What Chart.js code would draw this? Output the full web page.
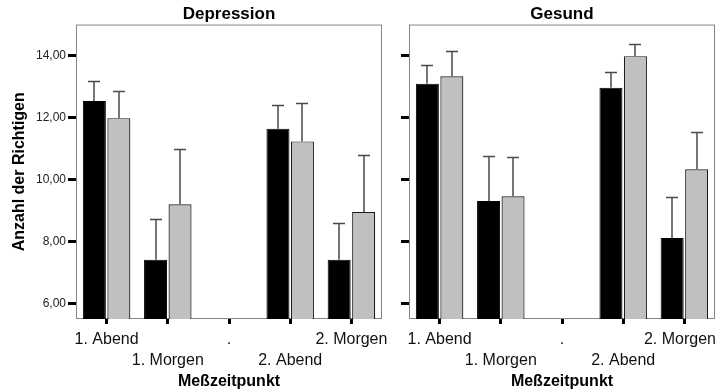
<!DOCTYPE html>
<html>
<head>
<meta charset="utf-8">
<script src="https://cdn.jsdelivr.net/npm/chart.js@4.4.1/dist/chart.umd.min.js"></script>
<style>
  html, body { margin: 0; padding: 0; background: #fff; overflow: hidden; }
  #wrap { position: relative; width: 718px; height: 391px; }
  canvas { position: absolute; top: 0; }
  #cDep { left: 0; }
  #cGes { left: 390px; }
</style>
</head>
<body>
<div id="wrap">
  <canvas id="cDep" width="390" height="391" style="width:390px;height:391px"></canvas>
  <canvas id="cGes" width="328" height="391" style="width:328px;height:391px"></canvas>
</div>
<script>
// Measurement times (x axis); "." is an empty placeholder category
const categories = ['1. Abend', '1. Morgen', '.', '2. Abend', '2. Morgen'];
// 0 = first label row, 1 = second label row (staggered labels)
const labelRows = [0, 1, 0, 1, 0];

// y axis range and tick values
const yMin = 5.5;
const yMax = 15;
const yTicks = [6, 8, 10, 12, 14];

// Depression group: means and upper error-bar ends
const depBlack = [12.53, 7.41, null, 11.64, 7.41];
const depBlackUpper = [13.17, 8.72, null, 12.40, 8.60];
const depGray = [11.98, 9.20, null, 11.23, 8.95];
const depGrayUpper = [12.87, 10.97, null, 12.47, 10.80];

// Gesund group: means and upper error-bar ends
const gesBlack = [13.09, 9.31, null, 12.96, 8.11];
const gesBlackUpper = [13.70, 10.76, null, 13.46, 9.43];
const gesGray = [13.33, 9.46, null, 13.98, 10.33];
const gesGrayUpper = [14.16, 10.72, null, 14.36, 11.53];

const FONT = "'Liberation Sans', Arial, Helvetica, sans-serif";

// grey frame around the plot area
const framePlugin = {
  id: 'frame',
  beforeDatasetsDraw(chart) {
    const { ctx, chartArea: a } = chart;
    ctx.save();
    ctx.strokeStyle = '#858585';
    ctx.lineWidth = 1;
    ctx.strokeRect(a.left + 0.5, a.top + 0.5, a.right - a.left - 1, a.bottom - a.top - 1);
    ctx.restore();
  }
};

// upper error bars (stem + cap) taken from each dataset's "upper" array
const errorBarPlugin = {
  id: 'errorBars',
  afterDatasetsDraw(chart) {
    const ctx = chart.ctx;
    const ys = chart.scales.y;
    ctx.save();
    ctx.strokeStyle = '#4a4a4a';
    ctx.lineWidth = 1.5;
    chart.data.datasets.forEach((ds, i) => {
      const meta = chart.getDatasetMeta(i);
      ds.upper.forEach((u, j) => {
        if (u == null || ds.data[j] == null) return;
        const el = meta.data[j];
        const x = Math.round(el.x);
        const y0 = ys.getPixelForValue(ds.data[j]);
        const y1 = Math.round(ys.getPixelForValue(u)) + 0.5;
        ctx.beginPath();
        ctx.moveTo(x, y0);
        ctx.lineTo(x, y1);
        ctx.moveTo(x - 6, y1);
        ctx.lineTo(x + 6, y1);
        ctx.stroke();
      });
    });
    ctx.restore();
  }
};

function makeChart(canvasId, title, black, blackUpper, gray, grayUpper, withYLabels) {
  const lastIdx = categories.length - 1;
  return new Chart(document.getElementById(canvasId), {
    type: 'bar',
    data: {
      labels: categories,
      datasets: [
        {
          label: 'Serie 1',
          data: black,
          upper: blackUpper,
          backgroundColor: '#000000',
          borderColor: '#000000',
          borderWidth: 1,
          base: yMin,
          categoryPercentage: 0.8,
          barPercentage: 0.94
        },
        {
          label: 'Serie 2',
          data: gray,
          upper: grayUpper,
          backgroundColor: '#c0c0c0',
          borderColor: '#1a1a1a',
          borderWidth: 1.2,
          base: yMin,
          categoryPercentage: 0.8,
          barPercentage: 0.94
        }
      ]
    },
    options: {
      responsive: false,
      animation: false,
      layout: { padding: { left: 0, right: withYLabels ? 8 : 3, top: 0, bottom: 0 } },
      plugins: {
        legend: { display: false },
        tooltip: { enabled: false },
        title: {
          display: true,
          text: title,
          fullSize: false,
          color: '#000',
          font: { family: FONT, size: 17, weight: 'bold', lineHeight: 1.15 },
          padding: { top: 5, bottom: 0 }
        }
      },
      scales: {
        x: {
          type: 'category',
          border: { display: false },
          grid: {
            offset: false,
            drawOnChartArea: false,
            drawTicks: true,
            tickLength: 5,
            tickWidth: 3,
            tickColor: '#000'
          },
          ticks: {
            autoSkip: false,
            maxRotation: 0,
            minRotation: 0,
            padding: 5,
            color: '#111',
            font: { family: FONT, size: 16, lineHeight: 1.3 },
            callback: function (value, index) {
              let text = categories[index];
              // keep the rightmost label of the right panel inside the canvas
              if (!withYLabels && index === lastIdx) text = text + '\u00a0\u00a0';
              return labelRows[index] === 0 ? [text, ''] : ['', text];
            }
          },
          title: {
            display: true,
            text: 'Meßzeitpunkt',
            color: '#000',
            font: { family: FONT, size: 16, weight: 'bold', lineHeight: 1.2 },
            padding: { top: 0, bottom: 0 }
          },
          afterFit(scale) {
            scale.height = 72;
            scale.paddingLeft = 0;
            scale.paddingRight = 0;
          }
        },
        y: {
          min: yMin,
          max: yMax,
          border: { display: false },
          grid: {
            drawOnChartArea: false,
            drawTicks: true,
            tickLength: 8,
            tickWidth: 3,
            tickColor: '#000'
          },
          afterBuildTicks(scale) {
            scale.ticks = yTicks.map(v => ({ value: v }));
          },
          ticks: {
            display: withYLabels,
            padding: 2,
            color: '#222',
            font: { family: FONT, size: 12 },
            callback: v => v.toFixed(2).replace('.', ',')
          },
          title: {
            display: withYLabels,
            text: 'Anzahl der Richtigen',
            color: '#000',
            font: { family: FONT, size: 16, weight: 'bold', lineHeight: 1.2 },
            padding: { top: 10, bottom: 0 }
          },
          afterFit(scale) {
            scale.width = withYLabels ? 76 : 19;
          }
        }
      }
    },
    plugins: [framePlugin, errorBarPlugin]
  });
}

makeChart('cDep', 'Depression', depBlack, depBlackUpper, depGray, depGrayUpper, true);
makeChart('cGes', 'Gesund', gesBlack, gesBlackUpper, gesGray, gesGrayUpper, false);
</script>
</body>
</html>
